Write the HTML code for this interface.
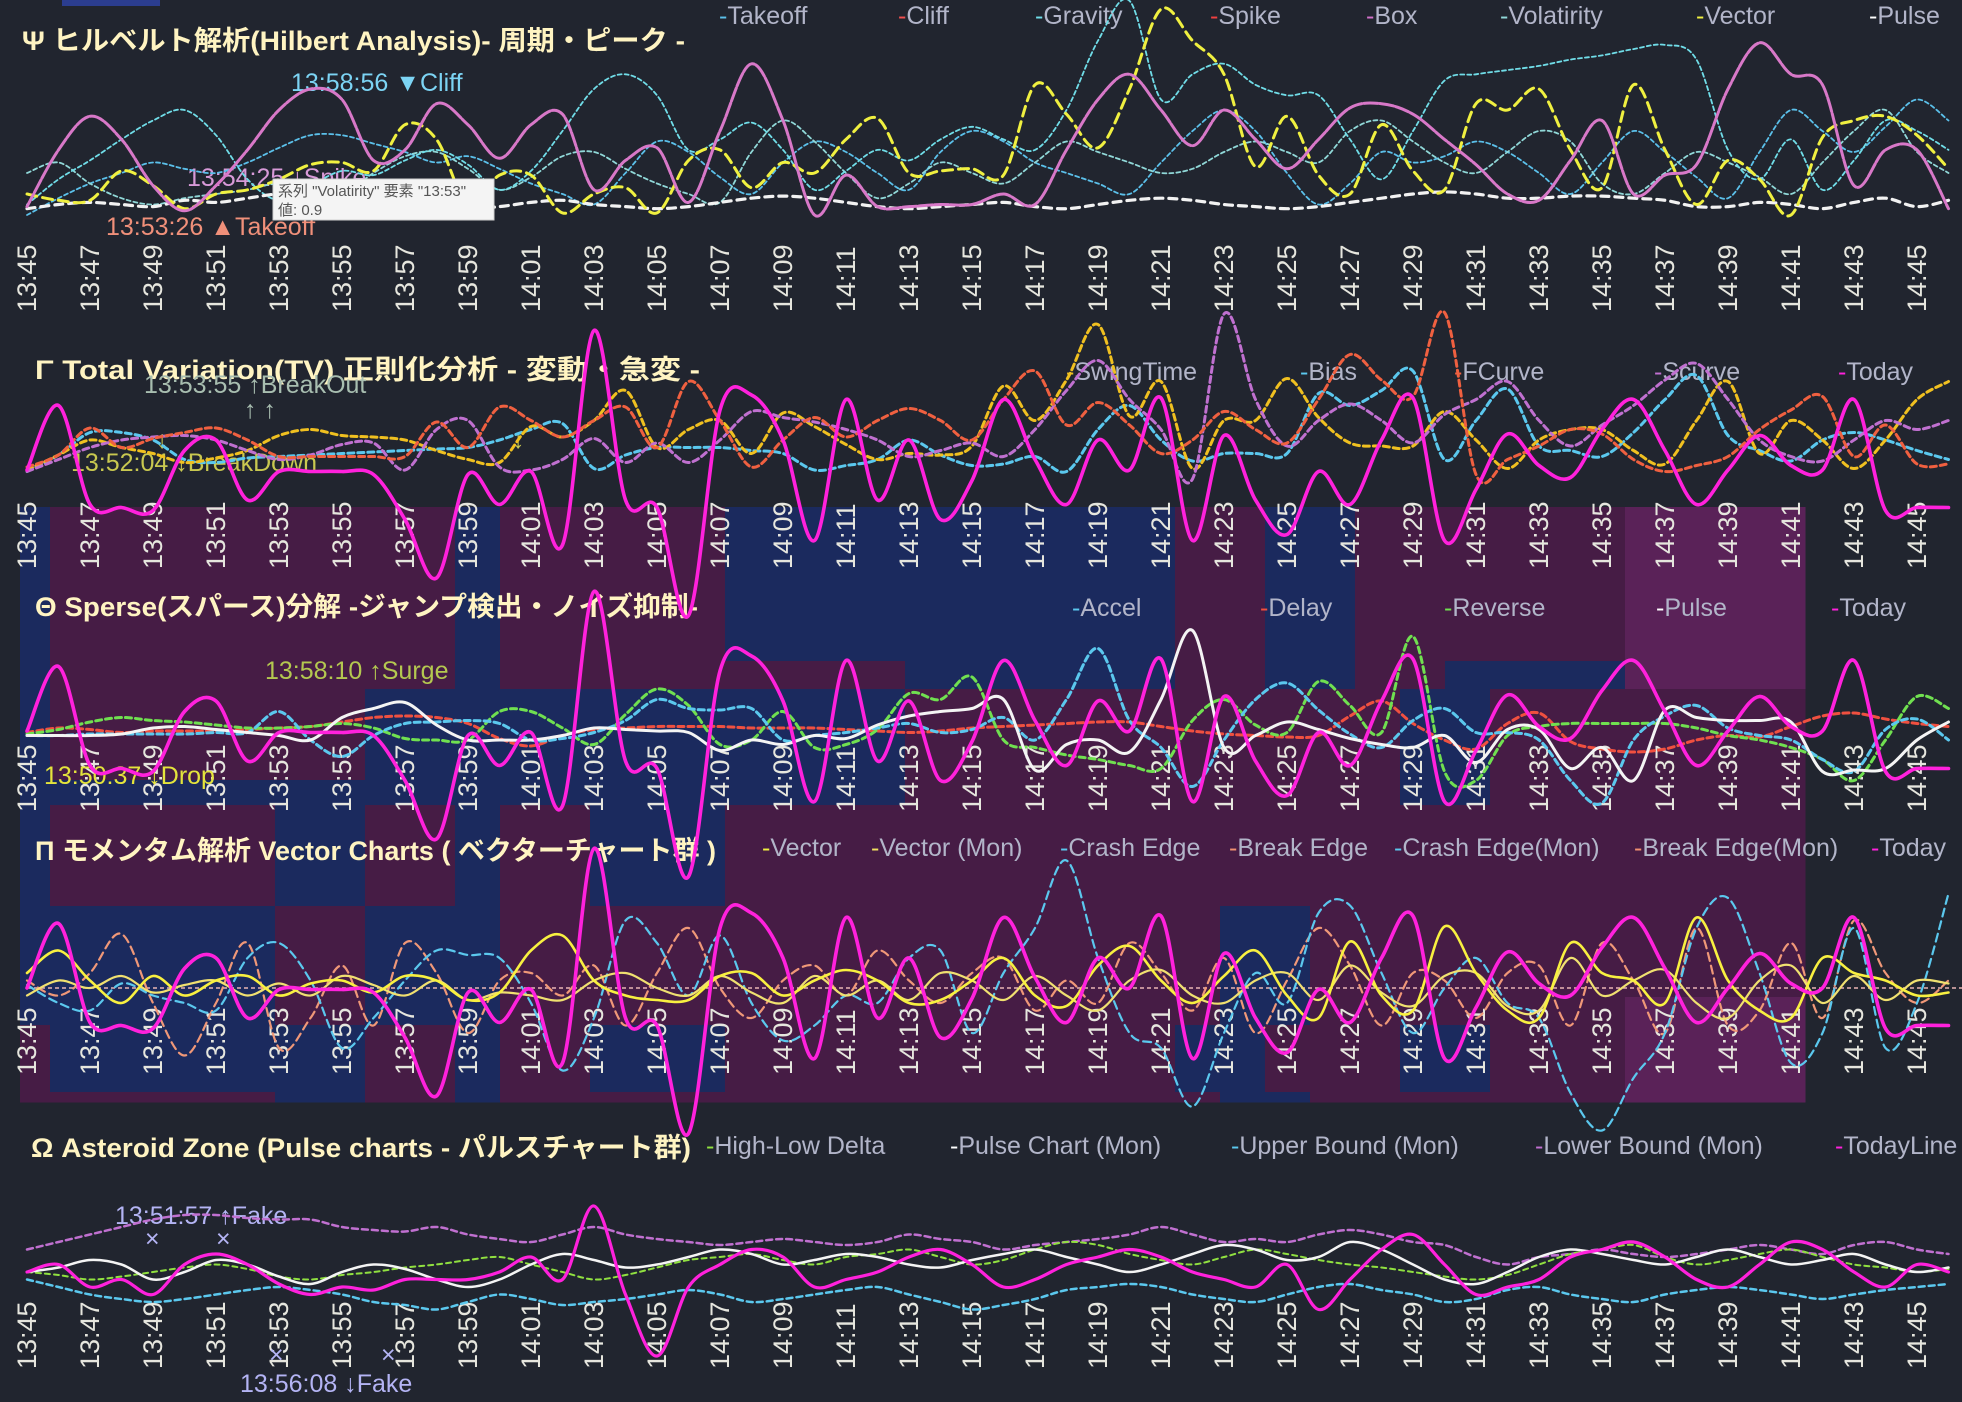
<!DOCTYPE html>
<html lang="ja">
<head>
<meta charset="utf-8">
<title>Hilbert / TV / Sparse / Vector / Pulse charts</title>
<style>
html,body{margin:0;padding:0;background:#21252f;}
body{width:1962px;height:1402px;overflow:hidden;}
svg{display:block;}
.ttl{font-family:"Liberation Sans","Noto Sans CJK JP",sans-serif;font-weight:bold;font-size:27px;fill:#fff4c2;}
.lg{font-family:"Liberation Sans","Noto Sans CJK JP",sans-serif;font-size:25px;fill:#b2b5c9;}
.tk{font-family:"Liberation Sans",sans-serif;font-size:27px;fill:#e6e6de;}
.an{font-family:"Liberation Sans","Noto Sans CJK JP",sans-serif;font-size:25px;}
.tt{font-family:"Liberation Sans","Noto Sans CJK JP",sans-serif;font-size:15px;fill:#555;}
</style>
</head>
<body>
<svg id="chart" width="1962" height="1402" viewBox="0 0 1962 1402" xmlns="http://www.w3.org/2000/svg">
  <rect x="0" y="0" width="1962" height="1402" fill="#21252f"/>
  <rect x="62" y="0" width="98" height="6" fill="#2b3d8f"/>
  <g id="heat"></g>
  <g id="labels">
    <text class="ttl" x="22" y="50" textLength="663" lengthAdjust="spacingAndGlyphs">Ψ ヒルベルト解析(Hilbert Analysis)- 周期・ピーク -</text>
    <text class="ttl" x="35" y="379" textLength="665" lengthAdjust="spacingAndGlyphs">Γ Total Variation(TV) 正則化分析 - 変動・急変 -</text>
    <text class="ttl" x="35" y="616" textLength="663" lengthAdjust="spacingAndGlyphs">Θ Sperse(スパース)分解 -ジャンプ検出・ノイズ抑制-</text>
    <text class="ttl" x="35" y="860" textLength="681" lengthAdjust="spacingAndGlyphs">Π モメンタム解析 Vector Charts ( ベクターチャート群 )</text>
    <text class="ttl" x="31" y="1157" textLength="660" lengthAdjust="spacingAndGlyphs">Ω Asteroid Zone (Pulse charts - パルスチャート群)</text>
  </g>
  <g id="legends"></g>
  <g id="ticks"></g>
  <g id="annos">
    <text class="an" x="291" y="91" fill="#7cd4f4">13:58:56 ▼Cliff</text>
    <text class="an" x="187" y="186" fill="#d89ad8">13:54:25 ↓Spike</text>
    <text class="an" x="106" y="235" fill="#f0907a">13:53:26 ▲Takeoff</text>
    <text class="an" x="144" y="393" fill="#a8beb0">13:53:55 ↑BreakOut</text>
    <text class="an" x="244" y="418" fill="#a8beb0">↑ ↑</text>
    <text class="an" x="71" y="471" fill="#c8c850">13:52:04 ↓BreakDown</text>
    <text class="an" x="156" y="448" fill="#c8c850" font-size="20">↓</text>
    <text class="an" x="512" y="448" fill="#c8c850" font-size="20">↓</text>
    <text class="an" x="265" y="679" fill="#b4c850">13:58:10 ↑Surge</text>
    <text class="an" x="44" y="784" fill="#e4e43c">13:50:37 ↓Drop</text>
    <text class="an" x="115" y="1224" fill="#b4b4f4">13:51:57 ↑Fake</text>
    <text class="an" x="240" y="1392" fill="#b4b4f4">13:56:08 ↓Fake</text>
    <text class="an" x="145" y="1247" fill="#b4b4f4">×</text>
    <text class="an" x="216" y="1247" fill="#b4b4f4">×</text>
    <text class="an" x="269" y="1363" fill="#b4b4f4">×</text>
    <text class="an" x="381" y="1363" fill="#b4b4f4">×</text>
  </g>
  <line x1="27" y1="988" x2="1962" y2="988" stroke="#e8b4b4" stroke-width="1.5" stroke-dasharray="4,3"/>
  <g id="lines"></g>
  <g>
    <rect x="273" y="179" width="221" height="41" fill="#f4f4f4" stroke="#cfcfcf"/>
    <text class="tt" x="278" y="196">系列 "Volatirity" 要素 "13:53"</text>
    <text class="tt" x="278" y="215">値: 0.9</text>
  </g>
</svg>
<script>
// ---- shared axis data ----
const tickLabels = ["13:45","13:47","13:49","13:51","13:53","13:55","13:57","13:59","14:01","14:03","14:05","14:07","14:09","14:11","14:13","14:15","14:17","14:19","14:21","14:23","14:25","14:27","14:29","14:31","14:33","14:35","14:37","14:39","14:41","14:43","14:45"];
// ---- Panel 1 (Hilbert) ----
const p1Box = [4,31,47,36,14,2,14,31,50,60,55,26,31,53,43,27,43,48,12,26,32,6,40,72,45,0,19,4,4,5,5,10,5,31,55,67,50,33,50,36,22,36,51,53,48,36,24,10,7,26,45,10,19,24,60,82,67,62,14,31,31,3];
const p1Vector = [10,7,7,21,14,3,10,12,17,24,25,21,43,36,5,19,19,1,10,13,1,26,31,13,25,20,36,46,20,21,22,19,62,48,32,60,98,83,67,23,47,19,10,43,21,12,53,50,60,31,13,62,31,5,26,17,0,37,45,47,38,22];
const p1Gravity = [5,17,26,36,45,50,38,17,7,14,21,19,26,31,24,12,21,40,60,67,57,31,36,44,31,12,21,31,26,36,42,36,31,50,83,102,55,67,72,62,57,57,36,17,40,64,67,69,71,74,76,79,81,74,31,17,36,12,26,45,40,31];
const p1Takeoff = [0,8,15,20,25,22,20,25,32,38,38,34,30,25,28,22,15,10,5,20,35,30,18,10,25,35,30,20,12,30,40,35,25,20,15,10,25,40,50,40,20,5,15,30,25,28,35,30,20,10,25,40,30,18,8,30,50,40,30,42,55,45];
const p1Volatirity = [20,25,15,8,5,8,10,12,15,12,10,20,28,30,22,12,18,28,30,22,15,10,6,30,45,35,20,8,15,25,20,15,25,35,30,25,20,22,30,35,30,25,40,45,35,25,20,30,40,35,15,10,20,30,25,18,10,25,40,50,30,20];
const p1Pulse = [3,5,6,5,4,7,6,8,10,9,8,6,5,4,3,4,6,7,5,4,3,4,6,8,9,8,6,4,3,4,5,6,4,3,5,7,8,7,5,4,3,4,6,8,10,11,10,8,8,9,9,8,7,4,4,6,5,3,6,8,4,7];
// ---- Panel 2 (TV) ----
const p2SwingTime = [0,10,20,15,11,5,8,13,23,27,23,22,20,13,7,5,29,22,33,53,15,27,33,11,38,29,17,7,11,10,16,56,33,60,97,36,59,1,33,33,61,35,18,16,16,39,20,1,20,27,27,13,4,33,59,11,33,20,1,20,47,59];
const p2Bias = [-1,10,25,25,20,7,5,8,9,10,11,12,13,14,15,20,27,31,1,10,15,15,15,13,11,0,3,7,20,10,3,4,9,-1,27,43,20,6,11,11,11,51,43,53,66,7,33,54,16,13,9,25,47,63,23,13,6,20,25,20,13,7];
const p2FCurve = [2,10,28,15,21,25,28,20,9,9,9,9,9,32,15,42,33,22,33,42,15,59,33,2,20,35,22,33,41,33,20,47,66,30,45,30,11,20,39,27,18,47,77,60,49,105,-3,7,16,27,24,7,-1,3,9,27,40,49,9,30,4,4];
const p2Scurve = [-1,7,15,20,22,23,20,13,7,10,17,18,0,27,33,2,0,7,21,5,18,5,20,39,35,32,27,20,9,13,18,9,27,53,73,47,27,-6,104,47,16,33,44,33,18,37,47,59,33,16,30,43,60,71,47,20,9,6,20,33,27,33];
const todayValues = [0,43,-23,-25,-27,13,20,-20,-1,-1,-1,-3,-33,-72,-3,-23,-1,-50,93,-20,-25,-97,40,50,20,-47,47,-20,20,-33,-7,47,7,-23,20,0,48,-47,23,-20,-43,-1,-23,20,48,-47,-13,24,3,-5,27,47,13,-23,0,23,3,0,47,-27,-25,-25];
// ---- Panel 3 (Sparse) ----
const p3Accel = [-3,-3,-2,-2,-2,-2,-1,-1,13,-6,-17,-3,5,6,7,5,-6,-5,-1,7,21,15,14,15,-6,-3,-1,2,5,-1,1,9,-6,21,55,7,-11,-37,-6,21,32,14,-2,-11,7,15,-1,-1,-6,-33,-48,-6,10,17,2,-3,-6,-19,-27,1,8,-6];
const p3Delay = [-1,2,1,-1,0,0,0,1,2,3,6,9,10,9,5,-5,-10,-3,1,2,3,3,3,2,2,2,1,0,-1,0,2,3,4,5,6,6,3,0,-2,-3,-4,-3,10,20,5,-6,-12,5,12,-7,-12,-14,-12,-6,-3,-4,3,10,12,8,5,3];
const p3Reverse = [-2,1,6,9,7,6,4,2,2,3,5,2,-5,-6,-6,13,13,2,-9,11,28,17,-9,-6,13,-11,-9,1,25,21,36,-6,-11,-16,-19,-23,-25,7,21,4,-1,33,17,-1,63,-27,-33,-3,3,5,5,5,5,2,-3,-6,-11,-19,-33,-6,23,15];
const p3Pulse = [-3,-3,-3,-2,2,3,1,-1,-3,-6,9,15,19,4,-6,-6,-6,-3,2,1,0,-1,-13,-6,-9,-3,-5,4,10,13,15,21,-26,-9,-6,-14,21,67,-11,-3,6,1,-5,-9,-11,-3,-21,1,1,-25,-11,-33,14,9,7,7,6,-27,-26,-25,-6,6];
// ---- Panel 4 (Vector) ----
const p4Vector = [10,25,5,-10,8,-5,5,8,-5,3,5,-3,8,5,-8,-3,25,35,5,-5,-8,-8,8,10,-5,5,12,5,-10,-8,5,20,-5,-12,15,28,5,-10,8,25,-5,-20,31,-5,-15,41,10,-15,-20,30,10,5,-10,47,5,-15,-20,20,10,5,-5,-3];
const p4VectorMon = [-5,5,0,8,-3,2,5,-5,3,-5,8,2,-5,5,-8,-3,-5,-8,5,10,0,-5,8,-3,-10,8,-5,5,-8,10,5,-8,8,-5,-15,5,12,-5,-10,5,10,-8,15,-3,-12,8,10,-12,-15,20,-5,5,12,-10,-20,5,15,-10,8,-8,5,3];
const p4CrashEdge = [2,-10,-15,3,-5,-10,-15,20,30,5,-40,-20,5,25,22,20,-10,-55,-20,45,30,-5,35,-10,-35,-25,-5,-10,20,25,-30,10,40,85,20,-30,-40,-79,-30,10,-10,50,55,10,-30,0,20,-10,-20,-70,-95,-60,-30,40,60,10,-50,-30,40,-40,-10,63];
const p4BreakEdge = [5,-5,10,36,-10,-45,-10,30,-40,-20,15,-25,30,10,-30,5,10,-5,15,-25,10,40,0,-20,5,15,-5,25,5,-10,10,20,-15,5,-10,30,10,-15,20,-30,5,40,15,-25,10,5,-20,10,15,-25,30,5,-30,40,-25,-15,30,-20,45,10,-10,5];
// ---- Panel 5 (Pulse) ----
const p5HighLow = [0,-2,-5,-3,0,3,5,2,-3,-5,-2,0,3,5,8,10,5,0,-5,-2,3,8,10,12,8,5,10,12,15,10,5,8,15,20,18,12,8,5,10,15,12,8,5,3,0,-3,-5,-2,5,12,15,18,10,5,8,12,15,10,5,3,0,2];
const p5PulseMon = [0,3,8,5,-5,0,8,5,-3,-8,0,5,2,-5,-10,-5,5,12,8,3,5,10,15,12,5,8,12,10,5,3,8,12,15,10,5,0,5,12,18,15,8,10,20,15,5,-5,-8,0,10,15,12,8,5,10,15,10,5,8,12,5,0,3];
const p5Upper = [15,20,25,30,35,38,38,36,35,35,30,28,27,30,25,22,20,25,30,25,22,20,18,20,22,20,18,20,25,22,20,15,18,20,22,25,30,25,20,22,20,25,28,25,20,18,10,5,10,12,15,12,10,12,15,18,15,12,18,20,15,12];
const p5Lower = [-5,-10,-15,-18,-20,-18,-15,-12,-10,-12,-15,-20,-22,-25,-20,-15,-18,-22,-20,-18,-15,-12,-15,-20,-18,-15,-12,-10,-15,-20,-25,-22,-18,-12,-10,-8,-10,-15,-18,-20,-15,-10,-8,-12,-15,-20,-18,-12,-10,-15,-18,-20,-15,-12,-10,-12,-15,-18,-15,-12,-10,-8];
const p5Today = [0,5,-10,-5,-15,5,12,5,-8,-15,-10,-12,-5,-5,-5,0,10,-5,44,-15,-56,-10,5,15,10,-10,-5,0,10,15,5,-10,-5,5,10,15,10,0,-5,-10,5,-25,-5,15,25,5,-15,-10,-5,10,15,20,10,-5,-10,5,20,15,0,-10,5,0];
// ---- Heatmap (codes: 0 blue, 1 purple, 2 light purple) ----
const heatRows = [
 "0111111111011111000000000011001111112222",
 "0111111111011111111100000011001100002222",
 "0111111100000000000011111111111001111111",
 "0000000000000000000011111111111001111111",
 "0111110011011000111111111111111111111111",
 "0000001100011111111111111110011111111111",
 "0000001100011111111111111110011111112222",
 "1000000011011000111111111100111001112222",
 "1111110011011111111111111110011111112222"
];
const heatRowEdges = [507,661,689,780,805,906,997,1025,1092,1102];

const NS = "http://www.w3.org/2000/svg";
function xAt(i){ return 27 + 31.5*i; }
function mk(tag, parent){ const e=document.createElementNS(NS,tag); parent.appendChild(e); return e; }

const heatColors = ["#1b2a5e","#461c45","#5a2258"];
const heatG = document.getElementById('heat');
heatRows.forEach((row, r) => {
  for (let c = 0; c < row.length; c++) {
    const x0 = Math.max(20, 5 + 45*c), x1 = 5 + 45*(c+1);
    const rc = mk('rect', heatG);
    
    
    rc.setAttribute('x', x0); rc.setAttribute('y', heatRowEdges[r]);
    rc.setAttribute('width', x1 - x0 + 0.5); rc.setAttribute('height', heatRowEdges[r+1] - heatRowEdges[r] + 0.5);
    rc.setAttribute('fill', heatColors[+row[c]]);
  }
});

const tickBottoms = [312, 569, 812, 1075, 1369];
const ticksG = document.getElementById('ticks');
tickBottoms.forEach((b, p) => {
  tickLabels.forEach((lab, k) => {
    const x = xAt(k*2) + 9;
    const t = mk('text', ticksG);
    
    
    t.setAttribute('class', 'tk');
    t.setAttribute('x', x); t.setAttribute('y', b);
    t.setAttribute('transform', `rotate(-90 ${x} ${b})`);
    t.textContent = lab;
  });
});

const legendDefs = [
  [24, [["Takeoff",719,"#5bc0ea"],["Cliff",898,"#f05050"],["Gravity",1035,"#70dde8"],["Spike",1210,"#f04040"],["Box",1366,"#d070c8"],["Volatirity",1500,"#90d8d8"],["Vector",1696,"#f0f040"],["Pulse",1869,"#ffffff"]]],
  [380, [["SwingTime",1066,"#f0c020"],["Bias",1300,"#5bc8ee"],["FCurve",1454,"#f06040"],["Scurve",1654,"#c070d0"],["Today",1838,"#ff21dc"]]],
  [616, [["Accel",1072,"#5bc8ee"],["Delay",1260,"#f05040"],["Reverse",1444,"#70e050"],["Pulse",1656,"#ffffff"],["Today",1831,"#ff21dc"]]],
  [856, [["Vector",762,"#f0f040"],["Vector (Mon)",871,"#f0e060"],["Crash Edge",1060,"#5bc8ee"],["Break Edge",1229,"#f09070"],["Crash Edge(Mon)",1394,"#5bc8ee"],["Break Edge(Mon)",1634,"#f09070"],["Today",1871,"#ff21dc"]]],
  [1154, [["High-Low Delta",706,"#90e040"],["Pulse Chart (Mon)",950,"#ffffff"],["Upper Bound (Mon)",1231,"#5bc8ee"],["Lower Bound (Mon)",1535,"#c070d0"],["TodayLine",1835,"#ff21dc"]]]
];
const legG = document.getElementById('legends');
legendDefs.forEach(([y, items]) => {
  items.forEach(([label, x, col]) => {
    const t = mk('text', legG);
    
    
    t.setAttribute('class', 'lg');
    t.setAttribute('x', x); t.setAttribute('y', y);
    const s1 = mk('tspan', t); s1.setAttribute('fill', col); s1.textContent = '-';
    const s2 = mk('tspan', t); s2.textContent = label;
  });
});

function curve(pts){
  let d = `M${pts[0][0].toFixed(1)},${pts[0][1].toFixed(1)}`;
  for (let i = 0; i < pts.length-1; i++) {
    const p0 = pts[i-1] || pts[i], p1 = pts[i], p2 = pts[i+1], p3 = pts[i+2] || p2;
    const c1x = p1[0] + (p2[0]-p0[0])/6, c1y = p1[1] + (p2[1]-p0[1])/6;
    const c2x = p2[0] - (p3[0]-p1[0])/6, c2y = p2[1] - (p3[1]-p1[1])/6;
    d += ` C${c1x.toFixed(1)},${c1y.toFixed(1)} ${c2x.toFixed(1)},${c2y.toFixed(1)} ${p2[0].toFixed(1)},${p2[1].toFixed(1)}`;
  }
  return d;
}
const linesG = document.getElementById('lines');
function series(name, vals, base, scale, color, width, dash){
  const pts = vals.map((v, i) => [xAt(i), base - v*scale]);
  const p = mk('path', linesG);
  
  
  p.setAttribute('d', curve(pts));
  p.setAttribute('fill', 'none');
  p.setAttribute('stroke', color);
  p.setAttribute('stroke-width', width);
  p.setAttribute('stroke-linecap', 'round');
  if (dash) p.setAttribute('stroke-dasharray', dash);
}
series('p1-takeoff-line', p1Takeoff, 215, 2.1, '#5bc0ea', 1.8, '4,3');
series('p1-volatirity-line', p1Volatirity, 215, 2.1, '#90d8d8', 1.8, '4,3');
series('p1-gravity-line', p1Gravity, 215, 2.1, '#70dde8', 1.8, '4,3');
series('p1-pulse-line', p1Pulse, 215, 2.1, '#f2f2f2', 3.2, '8,6');
series('p1-vector-line', p1Vector, 215, 2.1, '#f0f040', 3, '10,6');
series('p1-box-line', p1Box, 215, 2.1, '#d878c8', 3, '14,2');
series('p2-bias-line', p2Bias, 470, 1.5, '#5bc8ee', 3, '6,4');
series('p2-swingtime-line', p2SwingTime, 470, 1.5, '#f0c020', 3, '6,4');
series('p2-scurve-line', p2Scurve, 470, 1.5, '#c070d0', 3, '6,4');
series('p2-fcurve-line', p2FCurve, 470, 1.5, '#f06040', 3, '6,4');
series('p3-delay-line', p3Delay, 731, 1.5, '#f05040', 3, '6,4');
series('p3-reverse-line', p3Reverse, 731, 1.5, '#70e050', 3, '6,4');
series('p3-accel-line', p3Accel, 731, 1.5, '#5bc8ee', 3, '6,4');
series('p3-pulse-line', p3Pulse, 731, 1.5, '#f4f4f4', 3, null);
series('p4-break-edge-line', p4BreakEdge, 988, 1.5, '#f09878', 2.2, '8,5');
series('p4-crash-edge-line', p4CrashEdge, 988, 1.5, '#5bc8ee', 2.2, '8,5');
series('p4-vector-mon-line', p4VectorMon, 988, 1.5, '#f0e070', 2.2, null);
series('p4-vector-line', p4Vector, 988, 1.5, '#f8f040', 2.6, null);
series('p2-today-line', todayValues, 470, 1.5, '#ff21dc', 3.6, null);
series('p3-today-line', todayValues, 731, 1.5, '#ff21dc', 3.6, null);
series('p4-today-line', todayValues, 988, 1.5, '#ff21dc', 3.6, null);
series('p5-upper-bound-line', p5Upper, 1272, 1.5, '#c070d0', 2.5, '6,4');
series('p5-lower-bound-line', p5Lower, 1272, 1.5, '#5bc8ee', 2.5, '6,4');
series('p5-high-low-line', p5HighLow, 1272, 1.5, '#90e040', 2, '5,4');
series('p5-pulse-mon-line', p5PulseMon, 1272, 1.5, '#f4f4f4', 2.5, null);
series('p5-today-line', p5Today, 1272, 1.5, '#ff21dc', 3.2, null);
</script>
</body>
</html>
